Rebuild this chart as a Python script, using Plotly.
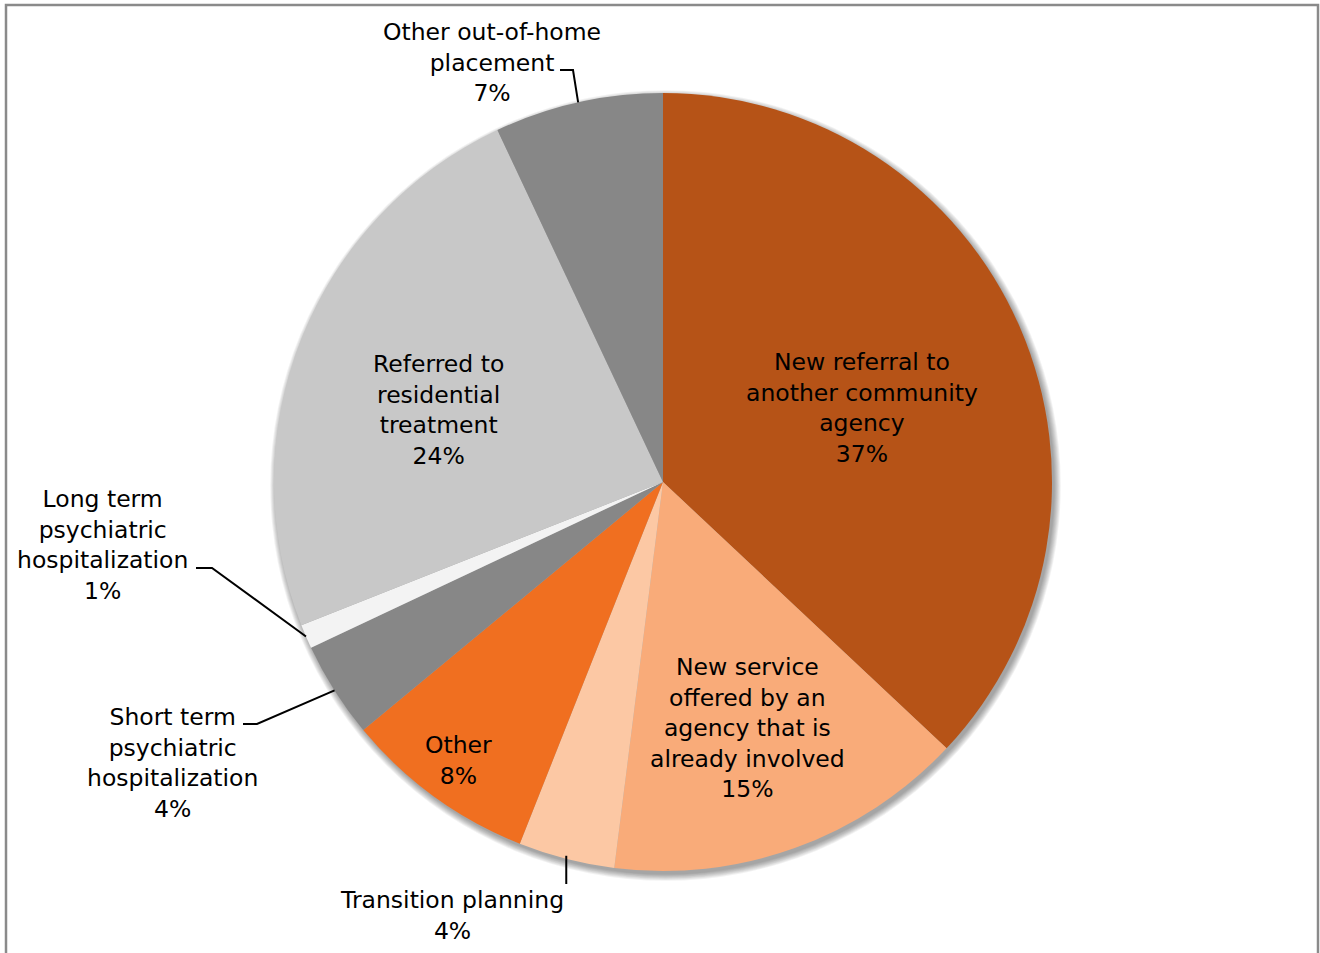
import math
import plotly.graph_objects as go

# ---- data -------------------------------------------------------------
categories = [
    "New referral to another community agency",
    "New service offered by an agency that is already involved",
    "Transition planning",
    "Other",
    "Short term psychiatric hospitalization",
    "Long term psychiatric hospitalization",
    "Referred to residential treatment",
    "Other out-of-home placement",
]
shares = [37, 15, 4, 8, 4, 1, 24, 7]
label_lines = [
    ["New referral to", "another community", "agency"],
    ["New service", "offered by an", "agency that is", "already involved"],
    ["Transition planning"],
    ["Other"],
    ["Short term", "psychiatric", "hospitalization"],
    ["Long term", "psychiatric", "hospitalization"],
    ["Referred to", "residential", "treatment"],
    ["Other out-of-home", "placement"],
]
slice_colors = ["#B65317", "#F9AB79", "#FCC8A4", "#F06F20",
                "#878787", "#F3F3F3", "#C8C8C8", "#878787"]

# ---- canvas / geometry (pixels) -------------------------------------
W, H = 1320, 953
CX, CY, R = 663, 482, 389
FONT = dict(family="DejaVu Sans", size=23.5, color="#000000")


def px(x):
    return x / W


def py(y):
    return 1 - y / H


total = sum(shares)
mids = []
acc = 0.0
for v in shares:
    mids.append((acc + v / 2) / total)
    acc += v


def edge_point(frac, r=R):
    a = 2 * math.pi * frac
    return CX + r * math.sin(a), CY - r * math.cos(a)


fig = go.Figure(go.Pie(
    labels=categories,
    values=shares,
    sort=False,
    direction="clockwise",
    rotation=0,
    marker=dict(colors=slice_colors, line=dict(width=0)),
    textinfo="none",
    hoverinfo="label+percent",
    showlegend=False,
    domain=dict(x=[px(CX - R), px(CX + R)], y=[py(CY + R), py(CY - R)]),
))

shapes = []

# soft drop shadow behind the pie
for k in range(8):
    rr = R + k * 0.9
    ox, oy = CX + 2.5, CY + 3.5
    shapes.append(dict(
        type="circle", xref="paper", yref="paper", layer="below",
        x0=px(ox - rr), x1=px(ox + rr), y0=py(oy + rr), y1=py(oy - rr),
        fillcolor="rgba(0,0,0,0.05)", line=dict(width=0),
    ))

# chart frame
shapes.append(dict(
    type="rect", xref="paper", yref="paper", layer="above",
    x0=px(6), x1=px(1318), y0=py(970), y1=py(5),
    line=dict(color="#8A8A8A", width=2.5), fillcolor="rgba(0,0,0,0)",
))

# label centres (pixels) and leader routing for outside labels
label_pos = {
    0: (862, 407.5),
    1: (747, 728),
    2: (452, 915.5),
    3: (458, 760.5),
    4: (172, 762.5),
    5: (102, 544.5),
    6: (438, 409.5),
    7: (492, 62),
}
leader_elbow = {
    7: [(573, 70), (560, 70)],
    5: [(212, 568), (196, 568)],
    4: [(257, 724), (243, 724)],
}

annotations = []
for i, lines in enumerate(label_lines):
    pct = f"{shares[i] / total * 100:.0f}%"
    text = "<br>".join(lines + [pct])
    x, y = label_pos[i]
    annotations.append(dict(
        x=px(x), y=py(y), xref="paper", yref="paper",
        text=text, showarrow=False, font=FONT, align="center",
        xanchor="center", yanchor="middle",
    ))

for i, pts in leader_elbow.items():
    sx, sy = edge_point(mids[i])
    path = f"M {px(sx)},{py(sy)}" + "".join(f" L {px(a)},{py(b)}" for a, b in pts)
    shapes.append(dict(type="path", xref="paper", yref="paper", path=path,
                       line=dict(color="black", width=2)))

# transition planning: straight drop from the rim
sx, sy = edge_point(mids[2])
shapes.append(dict(type="line", xref="paper", yref="paper",
                   x0=px(sx), y0=py(sy - 3), x1=px(sx), y1=py(884),
                   line=dict(color="black", width=2)))

fig.update_layout(
    width=W, height=H,
    margin=dict(l=0, r=0, t=0, b=0),
    paper_bgcolor="white", plot_bgcolor="white",
    shapes=shapes, annotations=annotations,
)

fig.write_html("out.html")
